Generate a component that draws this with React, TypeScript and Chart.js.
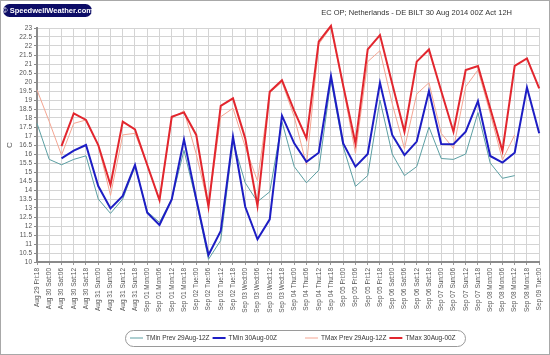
import React, { useEffect, useRef } from "react";
import { Chart, registerables } from "chart.js";

Chart.register(...registerables);

const categories = [
  "Aug 29 Fri:18",
  "Aug 30 Sat:00", "Aug 30 Sat:06", "Aug 30 Sat:12", "Aug 30 Sat:18",
  "Aug 31 Sun:00", "Aug 31 Sun:06", "Aug 31 Sun:12", "Aug 31 Sun:18",
  "Sep 01 Mon:00", "Sep 01 Mon:06", "Sep 01 Mon:12", "Sep 01 Mon:18",
  "Sep 02 Tue:00", "Sep 02 Tue:06", "Sep 02 Tue:12", "Sep 02 Tue:18",
  "Sep 03 Wed:00", "Sep 03 Wed:06", "Sep 03 Wed:12", "Sep 03 Wed:18",
  "Sep 04 Thu:00", "Sep 04 Thu:06", "Sep 04 Thu:12", "Sep 04 Thu:18",
  "Sep 05 Fri:00", "Sep 05 Fri:06", "Sep 05 Fri:12", "Sep 05 Fri:18",
  "Sep 06 Sat:00", "Sep 06 Sat:06", "Sep 06 Sat:12", "Sep 06 Sat:18",
  "Sep 07 Sun:00", "Sep 07 Sun:06", "Sep 07 Sun:12", "Sep 07 Sun:18",
  "Sep 08 Mon:00", "Sep 08 Mon:06", "Sep 08 Mon:12", "Sep 08 Mon:18",
  "Sep 09 Tue:00",
];

const tminPrev = [
  17.7, 15.7, 15.4, 15.7, 15.9, 13.5, 12.7, 13.5, 15.3, 12.8, 12.2, 13.5, 16.2,
  13.4, 10.15, 11.2, 16.7, 14.4, 13.35, 13.9, 17.8, 15.3, 14.4, 15.1, 20.1, 16.4,
  14.2, 14.8, 19.0, 16.0, 14.8, 15.3, 17.5, 15.75, 15.7, 16.0, 18.3, 15.5, 14.65,
  14.8, null, null,
];

const tmin = [
  null, null, 15.76, 16.19, 16.5, 14.22, 12.98, 13.67, 15.39, 12.74, 12.06, 13.48,
  16.81, 13.5, 10.39, 11.72, 16.96, 13.07, 11.26, 12.37, 18.13, 16.59, 15.57, 16.07,
  20.33, 16.59, 15.3, 16.0, 19.96, 17.06, 15.94, 16.69, 19.5, 16.56, 16.54, 17.24,
  18.94, 15.89, 15.52, 16.07, 19.7, 17.15,
];

const tmaxPrev = [
  19.56, 17.8, 15.94, 17.7, 17.89, 16.5, 13.7, 17.06, 17.15, 15.4, 13.4, 18.0, 18.4,
  16.0, 13.1, 18.07, 18.54, 16.4, 14.5, 19.4, 20.0, 18.07, 15.39, 22.1, 23.05, 19.7,
  16.04, 21.13, 21.74, 18.8, 16.3, 19.33, 19.96, 17.15, 16.31, 19.74, 20.67, 18.26,
  15.67, 17.06, null, null,
];

const tmax = [
  null, null, 16.44, 18.26, 17.89, 16.5, 14.28, 17.8, 17.37, 15.39, 13.44, 18.07,
  18.31, 17.06, 13.07, 18.67, 19.09, 16.87, 13.11, 19.46, 20.1, 18.4, 16.87, 22.24,
  23.12, 19.8, 16.59, 21.81, 22.61, 19.9, 17.24, 21.13, 21.81, 19.5, 17.24, 20.67,
  20.89, 18.54, 16.17, 20.89, 21.31, 19.65,
];

const seriesNames = [
  "TMin Prev 29Aug-12Z",
  "TMin 30Aug-00Z",
  "TMax Prev 29Aug-12Z",
  "TMax 30Aug-00Z",
];

const yMin = 10;
const yMax = 23;
const yStep = 0.5;

const titleText = "EC OP; Netherlands - DE BILT 30 Aug 2014 00Z Act 12H";
const logoText = "\u00a9 SpeedwellWeather.com";
const axisTitle = "C";

const FONT = '"Liberation Sans", Arial, sans-serif';

function roundRect(ctx: CanvasRenderingContext2D, x: number, y: number, w: number, h: number, r: number) {
  ctx.beginPath();
  ctx.moveTo(x + r, y);
  ctx.lineTo(x + w - r, y);
  ctx.arc(x + w - r, y + r, r, -Math.PI / 2, 0);
  ctx.lineTo(x + w, y + h - r);
  ctx.arc(x + w - r, y + h - r, r, 0, Math.PI / 2);
  ctx.lineTo(x + r, y + h);
  ctx.arc(x + r, y + h - r, r, Math.PI / 2, Math.PI);
  ctx.lineTo(x, y + r);
  ctx.arc(x + r, y + r, r, Math.PI, Math.PI * 1.5);
  ctx.closePath();
}

const decorPlugin = {
  id: "decor",
  beforeDraw(chart: any) {
    const ctx = chart.ctx as CanvasRenderingContext2D;
    ctx.save();
    ctx.fillStyle = "#ffffff";
    ctx.fillRect(0, 0, chart.width, chart.height);
    ctx.restore();
  },
  afterDraw(chart: any) {
    const ctx = chart.ctx as CanvasRenderingContext2D;
    ctx.save();
    // outer border
    ctx.strokeStyle = "#a8a8a8";
    ctx.lineWidth = 1;
    ctx.strokeRect(0.5, 0.5, chart.width - 1, chart.height - 1);

    // logo pill
    roundRect(ctx, 3, 4, 89, 13, 6.5);
    ctx.fillStyle = "#0c0c66";
    ctx.fill();
    ctx.fillStyle = "#ffffff";
    ctx.font = `bold 7.5px ${FONT}`;
    ctx.textAlign = "center";
    ctx.textBaseline = "middle";
    ctx.fillText(logoText, 47.5, 10.8);

    // title
    ctx.fillStyle = "#333333";
    ctx.font = `7.5px ${FONT}`;
    ctx.textAlign = "right";
    ctx.fillText(titleText, 512, 13);

    // legend
    const ds = chart.data.datasets;
    ctx.font = `6.5px ${FONT}`;
    ctx.textAlign = "left";
    let x = 130;
    const yMid = 338;
    [0, 1, 2, 3].forEach((i) => {
      const d = ds[i];
      ctx.strokeStyle = d.borderColor;
      ctx.lineWidth = d.borderWidth;
      ctx.beginPath();
      ctx.moveTo(x, yMid);
      ctx.lineTo(x + 13, yMid);
      ctx.stroke();
      x += 16;
      ctx.fillStyle = "#333333";
      ctx.fillText(d.label, x, yMid);
      x += ctx.measureText(d.label).width + 3;
      if (i === 1) x += 25;
    });
    roundRect(ctx, 125.5, 330.5, 340, 16, 8);
    ctx.strokeStyle = "#9a9a9a";
    ctx.lineWidth = 1;
    ctx.stroke();
    ctx.restore();
  },
};

export default function App() {
  const ref = useRef<HTMLCanvasElement>(null);
  useEffect(() => {
    const canvas = ref.current;
    if (!canvas) return;
    const chart = new Chart(canvas, {
      type: "line",
      data: {
        labels: categories,
        datasets: [
          {
            label: seriesNames[0],
            data: tminPrev,
            borderColor: "#5c9fa3",
            backgroundColor: "#5c9fa3",
            borderWidth: 1,
            pointRadius: 0,
            tension: 0,
            order: 3,
            clip: false,
          },
          {
            label: seriesNames[1],
            data: tmin,
            borderColor: "#1d1dc4",
            backgroundColor: "#1d1dc4",
            borderWidth: 2,
            pointRadius: 0,
            tension: 0,
            order: 1,
            clip: false,
          },
          {
            label: seriesNames[2],
            data: tmaxPrev,
            borderColor: "#f4a592",
            backgroundColor: "#f4a592",
            borderWidth: 1,
            pointRadius: 0,
            tension: 0,
            order: 2,
            clip: false,
          },
          {
            label: seriesNames[3],
            data: tmax,
            borderColor: "#e2262e",
            backgroundColor: "#e2262e",
            borderWidth: 2,
            pointRadius: 0,
            tension: 0,
            order: 0,
            clip: false,
          },
        ] as any,
      },
      options: {
        animation: false,
        responsive: false,
        maintainAspectRatio: false,
        layout: { padding: { top: 28, right: 7, left: 0, bottom: 0 } },
        plugins: {
          legend: { display: false },
          title: { display: false },
          tooltip: { enabled: false },
        },
        scales: {
          x: {
            type: "category",
            offset: false,
            grid: {
              color: "#d4d4d4",
              lineWidth: 1,
              drawTicks: true,
              tickLength: 3,
              tickColor: "#999999",
            },
            border: { color: "#8a8a8a", width: 2 },
            ticks: {
              autoSkip: false,
              maxRotation: 90,
              minRotation: 90,
              padding: 3,
              color: "#555555",
              font: { family: FONT, size: 6.5 },
            },
            afterFit: (scale: any) => {
              scale.height = 93;
            },
          },
          y: {
            type: "linear",
            min: yMin,
            max: yMax,
            grid: {
              color: "#d4d4d4",
              lineWidth: 1,
              drawTicks: true,
              tickLength: 3,
              tickColor: "#888888",
            },
            border: { color: "#8a8a8a", width: 2 },
            ticks: {
              stepSize: yStep,
              autoSkip: false,
              padding: 2,
              color: "#555555",
              font: { family: FONT, size: 6.5 },
              callback: (v: any) => String(Math.round(Number(v) * 10) / 10),
            },
            title: {
              display: true,
              text: axisTitle,
              color: "#555555",
              font: { family: FONT, size: 8 },
              padding: { top: 5, bottom: 0 },
            },
            afterFit: (scale: any) => {
              scale.width = 37;
            },
          },
        },
      },
      plugins: [decorPlugin],
    });
    return () => chart.destroy();
  }, []);
  return (
    <div style={{ position: "fixed", left: 0, top: 0, width: 550, height: 355 }}>
      <canvas ref={ref} width={550} height={355} style={{ width: 550, height: 355, display: "block" }} />
    </div>
  );
}
